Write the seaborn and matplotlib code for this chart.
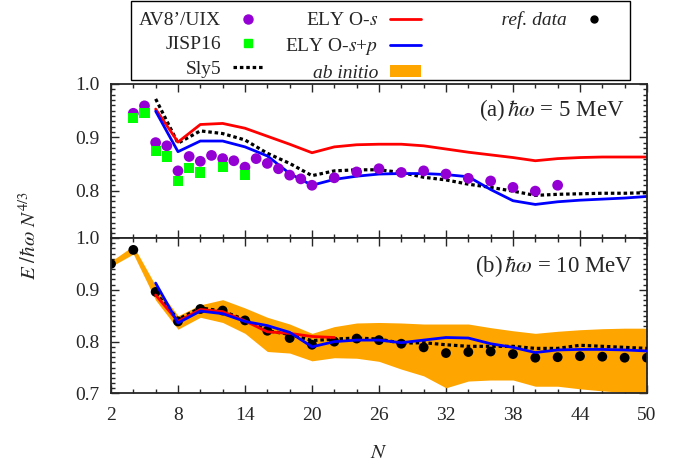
import matplotlib as mpl
mpl.use("Agg")
import matplotlib.pyplot as plt
import seaborn as sns
import numpy as np
from matplotlib.lines import Line2D
from matplotlib.patches import Patch, Rectangle
from matplotlib.ticker import MultipleLocator

# ---- panel (a): hbar omega = 5 MeV ----
av8_n = [4, 5, 6, 7, 8, 9, 10, 11, 12, 13, 14, 15, 16, 17, 18, 19, 20,
         22, 24, 26, 28, 30, 32, 34, 36, 38, 40, 42]
av8_e = [0.945, 0.959, 0.890, 0.884, 0.837, 0.864, 0.855, 0.866, 0.860, 0.856,
         0.844, 0.860, 0.851, 0.841, 0.829, 0.822, 0.810,
         0.824, 0.835, 0.841, 0.834, 0.837, 0.831, 0.823, 0.818, 0.806, 0.799, 0.810]

jisp_n = [4, 5, 6, 7, 8, 9, 10, 12, 14]
jisp_e = [0.936, 0.945, 0.874, 0.864, 0.818, 0.842, 0.834, 0.844, 0.829]

line_n = list(range(6, 51, 2))
ely_s_a = [0.953, 0.891, 0.924, 0.926, 0.917, 0.902, 0.887, 0.871, 0.882, 0.886, 0.887,
           0.887, 0.884, 0.878, 0.872, 0.867, 0.862, 0.856, 0.860, 0.862, 0.863, 0.863, 0.863]
ely_sp_a = [0.949, 0.873, 0.893, 0.893, 0.882, 0.865, 0.832, 0.810, 0.821, 0.827, 0.831,
            0.832, 0.832, 0.830, 0.826, 0.802, 0.781, 0.774, 0.779, 0.782, 0.784, 0.786, 0.789]
sly5_a = [0.972, 0.889, 0.912, 0.907, 0.895, 0.870, 0.851, 0.828, 0.837, 0.839, 0.839,
          0.834, 0.825, 0.820, 0.812, 0.806, 0.799, 0.791, 0.793, 0.794, 0.795, 0.795, 0.796]

# ---- panel (b): hbar omega = 10 MeV ----
ref_n = list(range(2, 51, 2))
ref_e = [0.950, 0.977, 0.896, 0.839, 0.863, 0.860, 0.841, 0.821, 0.807, 0.794, 0.800, 0.806,
         0.803, 0.796, 0.789, 0.778, 0.780, 0.781, 0.776, 0.769, 0.770, 0.772, 0.771, 0.769, 0.769]
abi_hi = [0.955, 0.985, 0.908, 0.850, 0.871, 0.881, 0.865, 0.847, 0.834, 0.816, 0.829, 0.836,
          0.837, 0.836, 0.834, 0.834, 0.834, 0.827, 0.821, 0.816, 0.820, 0.823, 0.825, 0.826, 0.826]
abi_lo = [0.945, 0.969, 0.880, 0.824, 0.847, 0.837, 0.816, 0.781, 0.778, 0.763, 0.769, 0.768,
          0.762, 0.747, 0.734, 0.711, 0.724, 0.726, 0.726, 0.714, 0.714, 0.709, 0.705, 0.702, 0.700]

ely_s_b_n = list(range(6, 23, 2))
ely_s_b = [0.890, 0.839, 0.862, 0.858, 0.840, 0.819, 0.816, 0.810, 0.808]
ely_sp_b = [0.913, 0.836, 0.859, 0.854, 0.839, 0.831, 0.818, 0.790, 0.800, 0.803, 0.803,
            0.798, 0.803, 0.808, 0.807, 0.796, 0.789, 0.779, 0.784, 0.785, 0.785, 0.784, 0.782]
sly5_b = [0.894, 0.843, 0.865, 0.859, 0.842, 0.821, 0.814, 0.802, 0.805, 0.807, 0.805,
          0.797, 0.798, 0.794, 0.791, 0.791, 0.791, 0.787, 0.787, 0.793, 0.791, 0.789, 0.787]

sns.set_style("ticks")
plt.rcParams['font.family'] = ['Liberation Serif', 'DejaVu Serif']
plt.rcParams['mathtext.fontset'] = 'stix'

PURPLE = '#9400d3'
GREEN = '#00ff00'
RED = '#ff0000'
BLUE = '#0000ff'
ORANGE = '#ffa500'
dash = (0, (1.1, 0.9))

W, H = 695, 469
fig = plt.figure(figsize=(W / 100, H / 100), dpi=100)
ax_a = fig.add_axes([0.1597, 0.4925, 0.7712, 0.3284])
ax_b = fig.add_axes([0.1597, 0.1610, 0.7712, 0.3316])

# panel (a)
sns.lineplot(x=line_n, y=sly5_a, ax=ax_a, color='black', lw=2.3, linestyle=dash)
sns.lineplot(x=line_n, y=ely_s_a, ax=ax_a, color=RED, lw=2.0)
sns.lineplot(x=line_n, y=ely_sp_a, ax=ax_a, color=BLUE, lw=2.0)
sns.scatterplot(x=av8_n, y=av8_e, ax=ax_a, color=PURPLE, s=60, marker='o', edgecolor='none', zorder=3)
sns.scatterplot(x=jisp_n, y=jisp_e, ax=ax_a, color=GREEN, s=55, marker='s', edgecolor='none', zorder=4)

# panel (b)
ax_b.fill_between(ref_n, abi_lo, abi_hi, color=ORANGE, lw=0, zorder=1)
sns.scatterplot(x=ref_n, y=ref_e, ax=ax_b, color='black', s=50, marker='o', edgecolor='none', zorder=2)
sns.lineplot(x=line_n, y=sly5_b, ax=ax_b, color='black', lw=2.3, linestyle=dash, zorder=3)
sns.lineplot(x=ely_s_b_n, y=ely_s_b, ax=ax_b, color=RED, lw=2.0, zorder=4)
sns.lineplot(x=line_n, y=ely_sp_b, ax=ax_b, color=BLUE, lw=2.0, zorder=5)

for ax in (ax_a, ax_b):
    ax.set_xlim(2, 50)
    ax.set_xticks(range(2, 51, 6))
    ax.xaxis.set_minor_locator(MultipleLocator(2))
    ax.yaxis.set_minor_locator(MultipleLocator(0.01))
    ax.tick_params(which='both', direction='in', top=True, right=True, labelsize=14, width=1)
    ax.tick_params(which='major', length=6, pad=8)
    ax.tick_params(which='minor', length=3)
    ax.tick_params(axis='x', pad=10)
    for sp in ax.spines.values():
        sp.set_linewidth(1.3)
    ax.set_xlabel('')
    ax.set_ylabel('')

ax_a.set_ylim(0.711, 1.0)
ax_a.set_yticks([0.8, 0.9, 1.0])
ax_a.set_yticklabels(['0.8', '0.9', '1.0'])
ax_a.tick_params(axis='x', labelbottom=False)
ax_b.set_ylim(0.7, 1.0)
ax_b.set_yticks([0.7, 0.8, 0.9, 1.0])
ax_b.set_yticklabels(['0.7', '0.8', '0.9', '1.0'])

ax_a.text(0.959, 0.83, r'(a)$\,\hbar\omega$ = 5 MeV', transform=ax_a.transAxes,
          ha='right', va='center', fontsize=16.5)
ax_b.text(0.974, 0.82, r'(b)$\,\hbar\omega$ = 10 MeV', transform=ax_b.transAxes,
          ha='right', va='center', fontsize=16.5)

fig.text(0.5453, 0.034, '$N$', ha='center', va='center', fontsize=15)
fig.text(0.043, 0.497, r'$E\ /\hbar\omega\ N^{4/3}$', rotation=90, ha='center', va='center', fontsize=15)

# legend: gnuplot-style box above the panels
blank = Line2D([], [], linestyle='none')
handles = [
    Line2D([], [], linestyle='none', marker='o', color=PURPLE, markersize=6.5),
    Line2D([], [], linestyle='none', marker='s', color=GREEN, markersize=5.5),
    Line2D([], [], color='black', lw=2.3, linestyle=dash),
    Line2D([], [], color=RED, lw=2.0),
    Line2D([], [], color=BLUE, lw=2.0),
    Patch(facecolor=ORANGE, edgecolor='none'),
    Line2D([], [], linestyle='none', marker='o', color='black', markersize=5),
    blank, blank,
]
labels = ['AV8’/UIX', 'JISP16', 'Sly5', 'ELY O-$s$', 'ELY O-$s$+$p$', 'ab initio',
          ' ' * 12 + 'ref. data', '', '']
leg = fig.legend(handles, labels, ncol=3, loc='upper left',
                 bbox_to_anchor=(131 / W, 1 - 3.5 / H),
                 borderaxespad=0, markerfirst=False, frameon=False, fontsize=14,
                 handlelength=1.6, handleheight=0.6, columnspacing=1.12,
                 labelspacing=0.37, borderpad=0.4, handletextpad=0.6)
leg.get_texts()[5].set_fontstyle('italic')
leg.get_texts()[6].set_fontstyle('italic')
fig.add_artist(Rectangle((131 / W, 1 - 80 / H), 499 / W, 79 / H, transform=fig.transFigure,
                         fill=False, edgecolor='black', lw=1.0))

fig.savefig('out.png', dpi=100)
